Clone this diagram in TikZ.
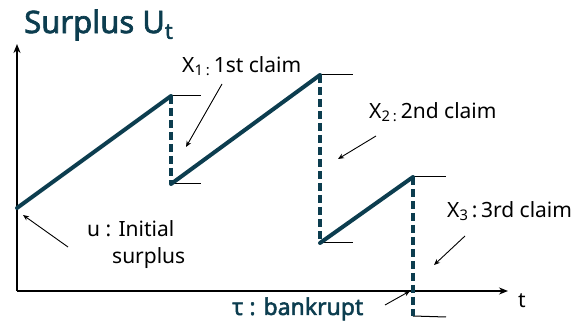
\documentclass[tikz,border=0pt]{standalone}
\usepackage{fontspec}
\setmainfont{Noto Sans}
\newfontfamily\heavysans[FakeBold=2.2]{Noto Sans}
\usetikzlibrary{arrows.meta}
\definecolor{teal}{RGB}{12,61,79}
\begin{document}
\begin{tikzpicture}[x=1pt,y=-1pt,
  axis/.style={line width=1.6pt,-{Stealth[length=9pt,width=7pt]}},
  ramp/.style={line width=4pt,teal,line cap=round},
  drop/.style={line width=4pt,teal,dash pattern=on 8pt off 4pt},
  tick/.style={line width=1pt,black},
  pointer/.style={line width=0.9pt,-{Stealth[length=6pt,width=5pt]}},
  lbl/.style={font=\fontsize{21}{27}\selectfont,inner sep=0pt,anchor=west}]
\useasboundingbox (0,0) rectangle (576,323);
% axes
\coordinate (O) at (17,291);
\coordinate (Ytop) at (17,44);
\coordinate (Xend) at (508,291);
\draw[axis] (O) -- (Ytop);
\draw[axis] (O) -- (Xend);
\node[lbl] (t) at (518,301) {t};
% title
\node[anchor=west,inner sep=0pt,text=teal,font=\fontsize{31}{33}\selectfont\heavysans] (title) at (24,25) {Surplus U\textsubscript{t}};
% path points
\coordinate (P0) at (17,208);
\coordinate (A1) at (171,96);
\coordinate (B1) at (171,184);
\coordinate (A2) at (320,75);
\coordinate (B2) at (320,243);
\coordinate (A3) at (413,177);
\coordinate (B3) at (413,316);
% tick lines
\coordinate (A1r) at (201,96);
\coordinate (B1r) at (201,184);
\coordinate (A2r) at (353,75);
\coordinate (B2r) at (353,243);
\coordinate (A3r) at (446,177);
\coordinate (B3r) at (446,317);
\draw[tick] (A1) -- (A1r);
\draw[tick] (B1) -- (B1r);
\draw[tick] (A2) -- (A2r);
\draw[tick] (B2) -- (B2r);
\draw[tick] (A3) -- (A3r);
\draw[tick] (B3) -- (B3r);
% drops
\draw[drop] (A1) -- (B1);
\draw[drop] (A2) -- (B2);
\draw[drop] (A3) -- (B3);
% ramps
\draw[ramp] (P0) -- (A1);
\draw[ramp] (B1) -- (A2);
\draw[ramp] (B2) -- (A3);
% labels
\node[lbl] (x1) at (182,66) {X\textsubscript{1}\textsubscript{\,:}\,1st claim};
\node[lbl] (x2) at (369,112) {X\textsubscript{2}\textsubscript{\,:}\,2nd claim};
\node[lbl] (x3) at (447,211) {X\textsubscript{3}\,:\,3rd claim};
\node[lbl,align=left] (u) at (87,245) {u : Initial\\\hspace*{25pt}surplus};
\node[lbl,text=teal,font=\fontsize{23}{25}\selectfont\heavysans] (tau) at (232,309) {τ : bankrupt};
% pointers
\coordinate (p1s) at (222,84);
\coordinate (p1e) at (186,147);
\coordinate (p2s) at (376,136);
\coordinate (p2e) at (338,159);
\coordinate (p3s) at (465,236);
\coordinate (p3e) at (434,265);
\coordinate (pus) at (68,247);
\coordinate (pue) at (23,215);
\coordinate (pts) at (385,305);
\coordinate (pte) at (410,291);
\draw[pointer] (p1s) -- (p1e);
\draw[pointer] (p2s) -- (p2e);
\draw[pointer] (p3s) -- (p3e);
\draw[pointer] (pus) -- (pue);
\draw[pointer] (pts) -- (pte);
\end{tikzpicture}
\end{document}
